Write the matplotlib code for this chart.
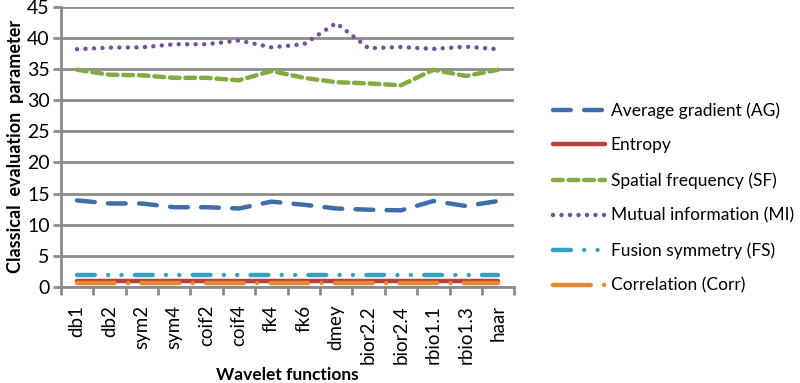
import matplotlib.pyplot as plt
import numpy as np

wavelets = ["db1", "db2", "sym2", "sym4", "coif2", "coif4", "fk4", "fk6",
            "dmey", "bior2.2", "bior2.4", "rbio1.1", "rbio1.3", "haar"]

ag = [13.9, 13.4, 13.4, 12.8, 12.8, 12.6, 13.7, 13.2, 12.6, 12.4, 12.3, 13.8, 13.0, 13.8]
entropy = [0.9] * 14
sf = [34.9, 34.1, 34.0, 33.6, 33.6, 33.2, 34.7, 33.6, 32.9, 32.7, 32.4, 34.9, 33.9, 34.9]
mi = [38.2, 38.45, 38.5, 39.0, 39.0, 39.6, 38.5, 39.0, 42.4, 38.35, 38.55, 38.25, 38.6, 38.2]
fs = [1.9] * 14
corr = [0.7] * 14

plt.rcParams['font.family'] = ['Lato', 'DejaVu Sans']

fig = plt.figure(figsize=(8, 3.83), dpi=100)
ax = fig.add_axes([0.076, 0.251, 0.567, 0.731])

x = np.arange(len(wavelets))
lw = 3.2

ax.plot(x, ag, color="#3e6daa", lw=lw, dashes=(4, 3), dash_capstyle="round",
        label="Average gradient (AG)")
ax.plot(x, entropy, color="#b9403b", lw=lw, solid_capstyle="round", label="Entropy")
ax.plot(x, sf, color="#84ab42", lw=lw, dashes=(2.2, 1.3), dash_capstyle="round",
        label="Spatial frequency (SF)")
ax.plot(x, mi, color="#7551a0", lw=lw, dashes=(0.01, 1.9), dash_capstyle="round",
        label="Mutual information (MI)")
ax.plot(x, fs, color="#37a2bd", lw=lw, dashes=(4, 3, 0.01, 3, 0.01, 3),
        dash_capstyle="round", label="Fusion symmetry (FS)")
ax.plot(x, corr, color="#e68734", lw=lw, dashes=(8.5, 3, 0.01, 3),
        dash_capstyle="round", label="Correlation (Corr)")

ax.set_xlim(-0.5, len(wavelets) - 0.5)
ax.set_ylim(0, 45)
ax.set_yticks(range(0, 46, 5))
ax.set_xticks(x)
ax.set_xticklabels(wavelets, rotation=90)
ax.set_xticks(np.arange(-0.5, len(wavelets), 1), minor=True)
ax.tick_params(axis="x", which="major", length=0, labelsize=13.5, pad=13)
ax.tick_params(axis="x", which="minor", length=6, width=2, color="#8c8c8c")
ax.tick_params(axis="y", length=6, width=2, color="#8c8c8c", labelsize=14, pad=2)

ax.yaxis.grid(True, color="#8c8c8c", lw=2)
ax.set_axisbelow(True)
for side in ["top", "right"]:
    ax.spines[side].set_visible(False)
for side in ["left", "bottom"]:
    ax.spines[side].set_color("#8c8c8c")
    ax.spines[side].set_linewidth(2)

ax.set_ylabel("Classical  evaluation  parameter", fontsize=13, fontweight="bold", labelpad=2)
ax.set_xlabel("Wavelet functions", fontsize=12.5, fontweight="bold", labelpad=2)

fig.legend(loc="center left", bbox_to_anchor=(0.672, 0.483), frameon=False,
           fontsize=12.5, handlelength=3.0, labelspacing=1.08, handletextpad=0.3)

fig.savefig("out.png", dpi=100)
